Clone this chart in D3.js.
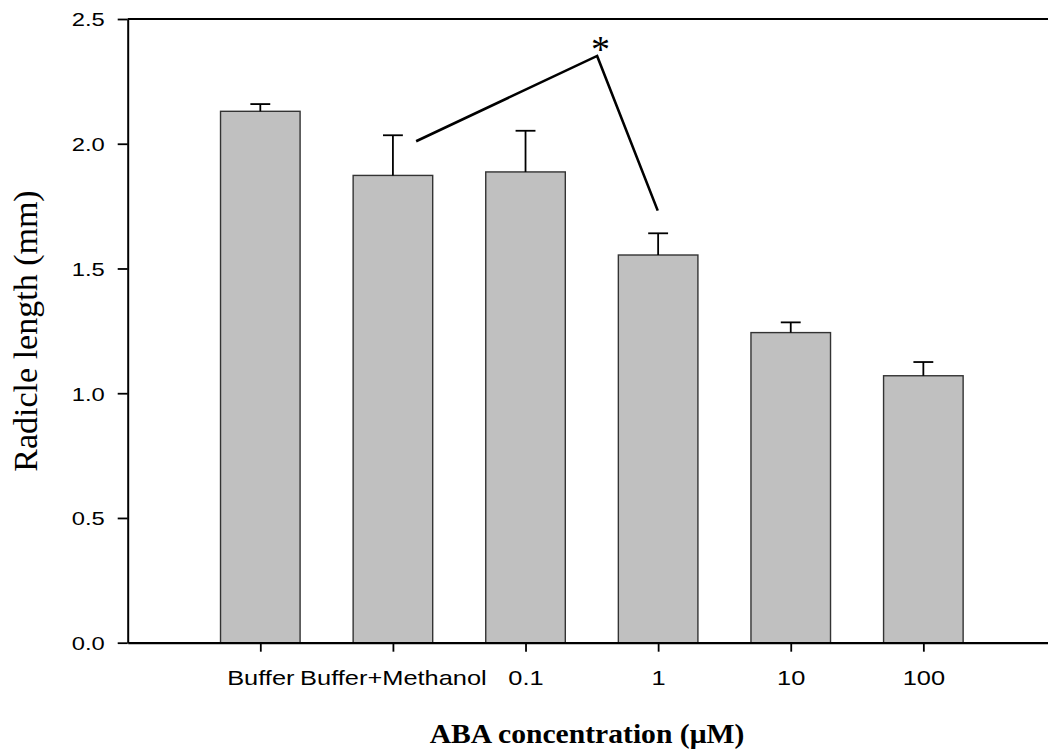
<!DOCTYPE html>
<html>
<head>
<meta charset="utf-8">
<script src="https://cdn.jsdelivr.net/npm/d3@7/dist/d3.min.js"></script>
<style>
  html, body { margin: 0; padding: 0; background: #fff; }
  svg { display: block; }
</style>
</head>
<body>
<svg id="chart" width="1048" height="751"></svg>
<script>
// Treatments along the x axis
const categories = ["Buffer", "Buffer+Methanol", "0.1", "1", "10", "100"];
// Mean radicle length (mm) and standard error for each treatment
const means = [2.13, 1.873, 1.887, 1.554, 1.243, 1.070];
const errors = [0.029, 0.161, 0.165, 0.087, 0.041, 0.055];
// Y tick values
const yTicks = [0.0, 0.5, 1.0, 1.5, 2.0, 2.5];
// Significance bracket between Buffer+Methanol and 1 µM (x in category units)
const sigPath = [[1.175, 2.01], [2.54, 2.352], [2.997, 1.732]];
const sigLabel = "*";

const svg = d3.select("#chart");
const plotLeft = 127.7, plotRight = 1048, plotTop = 19, plotBottom = 642.7;

// Category index -> pixel (linear so the bracket can sit between bars)
const x = d3.scaleLinear().domain([-1, 5.94]).range([plotLeft, plotRight]);
const y = d3.scaleLinear().domain([0, 2.5]).range([plotBottom, plotTop]);
const barHalf = 0.3, capHalf = 0.075;

// Bars
svg.append("g").selectAll("rect")
  .data(means)
  .join("rect")
  .attr("x", (d, i) => x(i - barHalf))
  .attr("width", x(barHalf) - x(-barHalf))
  .attr("y", d => y(d))
  .attr("height", d => y(0) - y(d))
  .attr("fill", "#c0c0c0")
  .attr("stroke", "#333")
  .attr("stroke-width", 1.4);

// Error bars (upper only)
const eb = svg.append("g").attr("stroke", "#000").attr("stroke-width", 1.8);
means.forEach((m, i) => {
  eb.append("line").attr("x1", x(i)).attr("x2", x(i)).attr("y1", y(m)).attr("y2", y(m + errors[i]));
  eb.append("line").attr("x1", x(i - capHalf)).attr("x2", x(i + capHalf))
    .attr("y1", y(m + errors[i])).attr("y2", y(m + errors[i]));
});

// Stretched text helper: horizontal scaling about the anchor point
function stretchText(sel, sx) {
  sel.each(function () {
    const t = d3.select(this);
    const tx = +t.attr("x") || 0, ty = +t.attr("y") || 0;
    t.attr("transform", `translate(${tx},${ty}) scale(${sx},1) translate(${-tx},${-ty})`);
  });
}

// Y axis
const yAxis = svg.append("g").attr("transform", `translate(${plotLeft},0)`)
  .call(d3.axisLeft(y).tickValues(yTicks).tickFormat(d3.format(".1f"))
    .tickSizeInner(10).tickSizeOuter(0).tickPadding(13));
yAxis.select(".domain").attr("stroke-width", 2);
yAxis.selectAll(".tick line").attr("stroke-width", 1.8);
yAxis.selectAll(".tick text")
  .attr("font-family", "'Liberation Sans', Arial, sans-serif")
  .attr("font-size", 19).attr("fill", "#000").attr("dy", "0.36em")
  .attr("transform", "translate(-23,0) scale(1.25,1) translate(23,0)");

// X axis
const xAxis = svg.append("g").attr("transform", `translate(0,${plotBottom})`)
  .call(d3.axisBottom(x).tickValues(d3.range(categories.length))
    .tickFormat(i => categories[i]).tickSizeInner(9).tickSizeOuter(0).tickPadding(18.5));
xAxis.select(".domain").attr("stroke-width", 2.2);
xAxis.selectAll(".tick line").attr("stroke-width", 1.8);
xAxis.selectAll(".tick text")
  .attr("font-family", "'Liberation Sans', Arial, sans-serif")
  .attr("font-size", 20.5).attr("fill", "#000")
  .attr("transform", "scale(1.24,1)");

// Top frame line
svg.append("line").attr("x1", plotLeft).attr("x2", plotRight).attr("y1", y(2.5)).attr("y2", y(2.5))
  .attr("stroke", "#000").attr("stroke-width", 2);

// Significance bracket and marker
svg.append("path")
  .attr("d", d3.line().x(d => x(d[0])).y(d => y(d[1]))(sigPath))
  .attr("fill", "none").attr("stroke", "#000").attr("stroke-width", 2.6);
svg.append("text")
  .attr("x", x(sigPath[1][0]) + 3.3).attr("y", y(sigPath[1][1]) + 5.7)
  .attr("text-anchor", "middle")
  .attr("font-family", "'Liberation Serif', 'Times New Roman', serif")
  .attr("font-size", 38).attr("fill", "#000")
  .text(sigLabel);

// Axis titles
svg.append("text")
  .attr("x", 587).attr("y", 743)
  .attr("text-anchor", "middle")
  .attr("font-family", "'Liberation Serif', 'Times New Roman', serif")
  .attr("font-weight", "bold").attr("font-size", 27.7).attr("fill", "#000")
  .text("ABA concentration (μM)")
  .call(stretchText, 1.07);

svg.append("text")
  .attr("transform", "translate(37,331) rotate(-90)")
  .attr("text-anchor", "middle")
  .attr("font-family", "'Liberation Serif', 'Times New Roman', serif")
  .attr("font-size", 34).attr("fill", "#000")
  .text("Radicle length (mm)");
</script>
</body>
</html>
